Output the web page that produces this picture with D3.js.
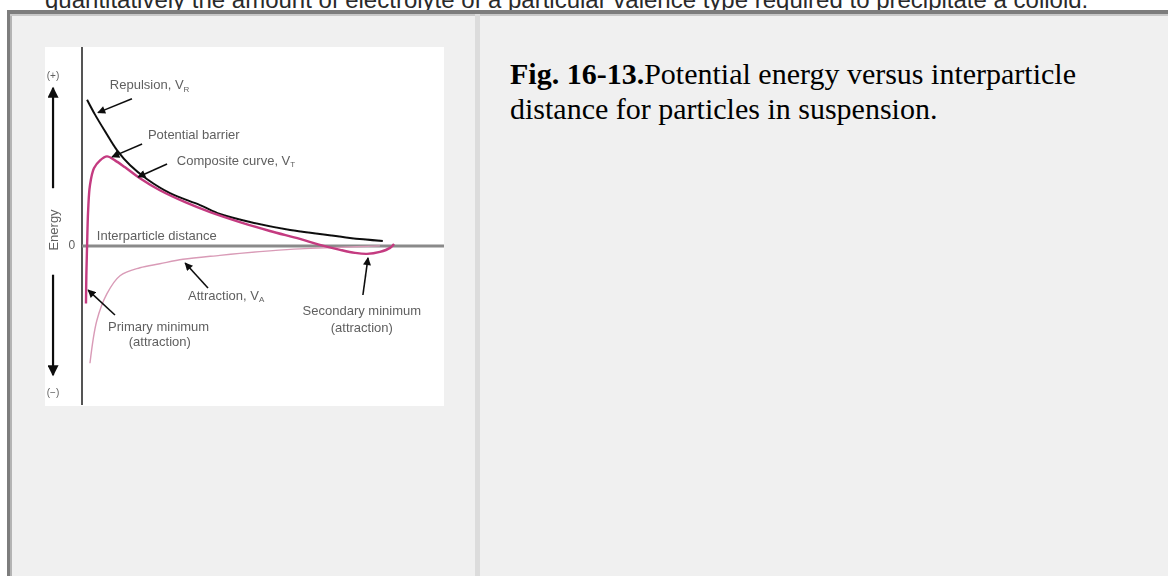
<!DOCTYPE html>
<html>
<head>
<meta charset="utf-8">
<script src="https://cdn.jsdelivr.net/npm/d3@7/dist/d3.min.js"></script>
<style>
  html, body { margin: 0; padding: 0; background: #ffffff; }
  svg { display: block; }
</style>
</head>
<body>
<svg id="page" width="1168" height="576"></svg>
<script>
// Interparticle distance (arbitrary units) and energy (arbitrary units)
const repulsionX = [0.14, 0.36, 0.64, 0.97, 1.33, 1.80, 2.43, 3.26, 3.81, 4.64, 5.75, 6.57, 7.40, 8.31];
const repulsionY = [14.7, 13.2, 11.5, 9.6, 8.1, 6.7, 5.3, 4.1, 3.2, 2.4, 1.6, 1.2, 0.8, 0.5];

const compositeX = [0.11, 0.12, 0.14, 0.17, 0.22, 0.33, 0.50, 0.69, 0.91, 1.19, 1.60, 2.15, 2.85, 3.54, 4.36, 5.19, 6.02, 6.57, 7.13, 7.54, 7.87, 8.23, 8.51, 8.62];
const compositeY = [-5.8, -3.0, 0.0, 3.6, 6.1, 7.8, 8.6, 9.0, 8.6, 7.9, 6.8, 5.6, 4.4, 3.4, 2.4, 1.5, 0.7, 0.1, -0.4, -0.7, -0.8, -0.6, -0.2, 0.2];

const attractionX = [0.22, 0.41, 0.69, 1.05, 1.60, 2.15, 2.79, 3.81, 4.36, 5.19, 6.02, 7.13, 8.23];
const attractionY = [-11.8, -7.5, -4.8, -3.0, -2.2, -1.8, -1.35, -0.95, -0.75, -0.5, -0.3, -0.15, 0.0];

const headerText = "quantitatively the amount of electrolyte of a particular valence type required to precipitate a colloid.";
const captionBold = "Fig. 16-13.";
const captionLines = ["Potential energy versus interparticle", "distance for particles in suspension."];

const svg = d3.select("#page");
const defs = svg.append("defs");

// ---- page frame ----
svg.append("text")
  .attr("x", 45).attr("y", 8)
  .attr("font-family", "Liberation Sans, Arial, sans-serif")
  .attr("font-size", 24).attr("fill", "#2a2a2a")
  .text(headerText);

svg.append("rect").attr("x", 7).attr("y", 10).attr("width", 1161).attr("height", 566).attr("fill", "#f0f0f0");
svg.append("rect").attr("x", 7).attr("y", 10).attr("width", 1161).attr("height", 4).attr("fill", "#7d7d7d");
svg.append("rect").attr("x", 7).attr("y", 10).attr("width", 3).attr("height", 566).attr("fill", "#7d7d7d");
svg.append("rect").attr("x", 10).attr("y", 14).attr("width", 2).attr("height", 562).attr("fill", "#b4b4b4");
svg.append("rect").attr("x", 10).attr("y", 14).attr("width", 1158).attr("height", 2).attr("fill", "#c8c8c8");
svg.append("rect").attr("x", 475).attr("y", 14).attr("width", 5).attr("height", 562).attr("fill", "#dcdcdc");

// caption
const cap = svg.append("text")
  .attr("font-family", "Liberation Serif, Times New Roman, serif")
  .attr("font-size", 30).attr("fill", "#000");
cap.append("tspan").attr("x", 510).attr("y", 84).attr("font-weight", "bold").text(captionBold);
cap.append("tspan").text(captionLines[0]);
cap.append("tspan").attr("x", 510).attr("y", 119).text(captionLines[1]);

// ---- figure ----
const W = 399, H = 359;
const fig = svg.append("g").attr("transform", "translate(45,47)");
fig.append("rect").attr("width", W).attr("height", H).attr("fill", "#ffffff");

defs.append("filter").attr("id", "soft")
  .append("feGaussianBlur").attr("stdDeviation", 0.45);
const plot = fig.append("g").attr("filter", "url(#soft)");

const x = d3.scaleLinear().domain([0, 10]).range([37, 399]);
const y = d3.scaleLinear().domain([-16, 20]).range([358, 0]);

defs.append("marker").attr("id", "head").attr("viewBox", "0 0 10 10")
  .attr("refX", 9).attr("refY", 5).attr("markerWidth", 9).attr("markerHeight", 8)
  .attr("markerUnits", "userSpaceOnUse").attr("orient", "auto")
  .append("path").attr("d", "M0,0 L10,5 L0,10 Z").attr("fill", "#111");
defs.append("marker").attr("id", "bighead").attr("viewBox", "0 0 10 10")
  .attr("refX", 9).attr("refY", 5).attr("markerWidth", 15).attr("markerHeight", 11)
  .attr("markerUnits", "userSpaceOnUse").attr("orient", "auto")
  .append("path").attr("d", "M0,0 L10,5 L0,10 Z").attr("fill", "#111");

// axes
plot.append("line").attr("x1", x(0)).attr("x2", x(0)).attr("y1", 0).attr("y2", 358)
  .attr("stroke", "#555").attr("stroke-width", 2);
plot.append("line").attr("x1", x(0)).attr("x2", W).attr("y1", y(0)).attr("y2", y(0))
  .attr("stroke", "#8a8a8a").attr("stroke-width", 3);

const line = d3.line().x(d => x(d[0])).y(d => y(d[1])).curve(d3.curveCatmullRom.alpha(0.5));
const zip = (a, b) => a.map((v, i) => [v, b[i]]);

plot.append("path").datum(zip(attractionX, attractionY)).attr("d", line)
  .attr("fill", "none").attr("stroke", "#d99bb7").attr("stroke-width", 1.4);
plot.append("path").datum(zip(repulsionX, repulsionY)).attr("d", line)
  .attr("fill", "none").attr("stroke", "#111").attr("stroke-width", 2);
plot.append("path").datum(zip(compositeX, compositeY)).attr("d", line)
  .attr("fill", "none").attr("stroke", "#c43a80").attr("stroke-width", 2.4);

// energy direction arrows
const side = -0.8;
plot.append("line").attr("x1", x(side)).attr("x2", x(side)).attr("y1", y(5.8)).attr("y2", y(15.9))
  .attr("stroke", "#111").attr("stroke-width", 2.2).attr("marker-end", "url(#bighead)");
plot.append("line").attr("x1", x(side)).attr("x2", x(side)).attr("y1", y(-2.9)).attr("y2", y(-13))
  .attr("stroke", "#111").attr("stroke-width", 2.2).attr("marker-end", "url(#bighead)");

const FS = 13;
const lbl = (t, dx, dy, anchor, size) => plot.append("text")
  .attr("x", x(dx)).attr("y", y(dy)).attr("dy", "0.35em")
  .attr("text-anchor", anchor || "start")
  .attr("font-family", "Liberation Sans, Arial, sans-serif")
  .attr("font-size", size || FS).attr("fill", "#5f5f5f").text(t);

lbl("(+)", side, 17.1, "middle", 10);
lbl("(\u2212)", side, -14.7, "middle", 10);
lbl("0", -0.28, 0.1, "middle", 12);
plot.append("text")
  .attr("transform", `translate(${x(side)},${y(1.6)}) rotate(-90)`)
  .attr("text-anchor", "middle").attr("dy", "0.35em")
  .attr("font-family", "Liberation Sans, Arial, sans-serif")
  .attr("font-size", FS).attr("fill", "#5f5f5f").text("Energy");

// labels with subscripts
const sub = (sel, s) => sel.append("tspan").attr("font-size", 8).attr("dy", "0.35em").text(s);
sub(lbl("Repulsion, V", 0.77, 16.2), "R");
lbl("Potential barrier", 1.82, 11.2);
sub(lbl("Composite curve, V", 2.62, 8.64), "T");
lbl("Interparticle distance", 0.41, 1.1);
sub(lbl("Attraction, V", 2.93, -4.94), "A");
lbl("Primary minimum", 0.72, -8.1);
lbl("(attraction)", 2.15, -9.65, "middle");
lbl("Secondary minimum", 7.73, -6.5, "middle");
lbl("(attraction)", 7.73, -8.24, "middle");

// pointer arrows [from x, from y, to x, to y]
const pointers = [
  [1.38, 14.8, 0.44, 13.4],
  [1.66, 10.25, 0.83, 8.95],
  [2.35, 8.24, 1.55, 6.93],
  [0.91, -6.95, 0.17, -4.45],
  [3.48, -4.24, 2.85, -1.72],
  [7.76, -4.94, 7.9, -1.2]
];
plot.selectAll("line.ptr").data(pointers).enter().append("line").attr("class", "ptr")
  .attr("x1", d => x(d[0])).attr("y1", d => y(d[1]))
  .attr("x2", d => x(d[2])).attr("y2", d => y(d[3]))
  .attr("stroke", "#111").attr("stroke-width", 1.6).attr("marker-end", "url(#head)");
</script>
</body>
</html>
